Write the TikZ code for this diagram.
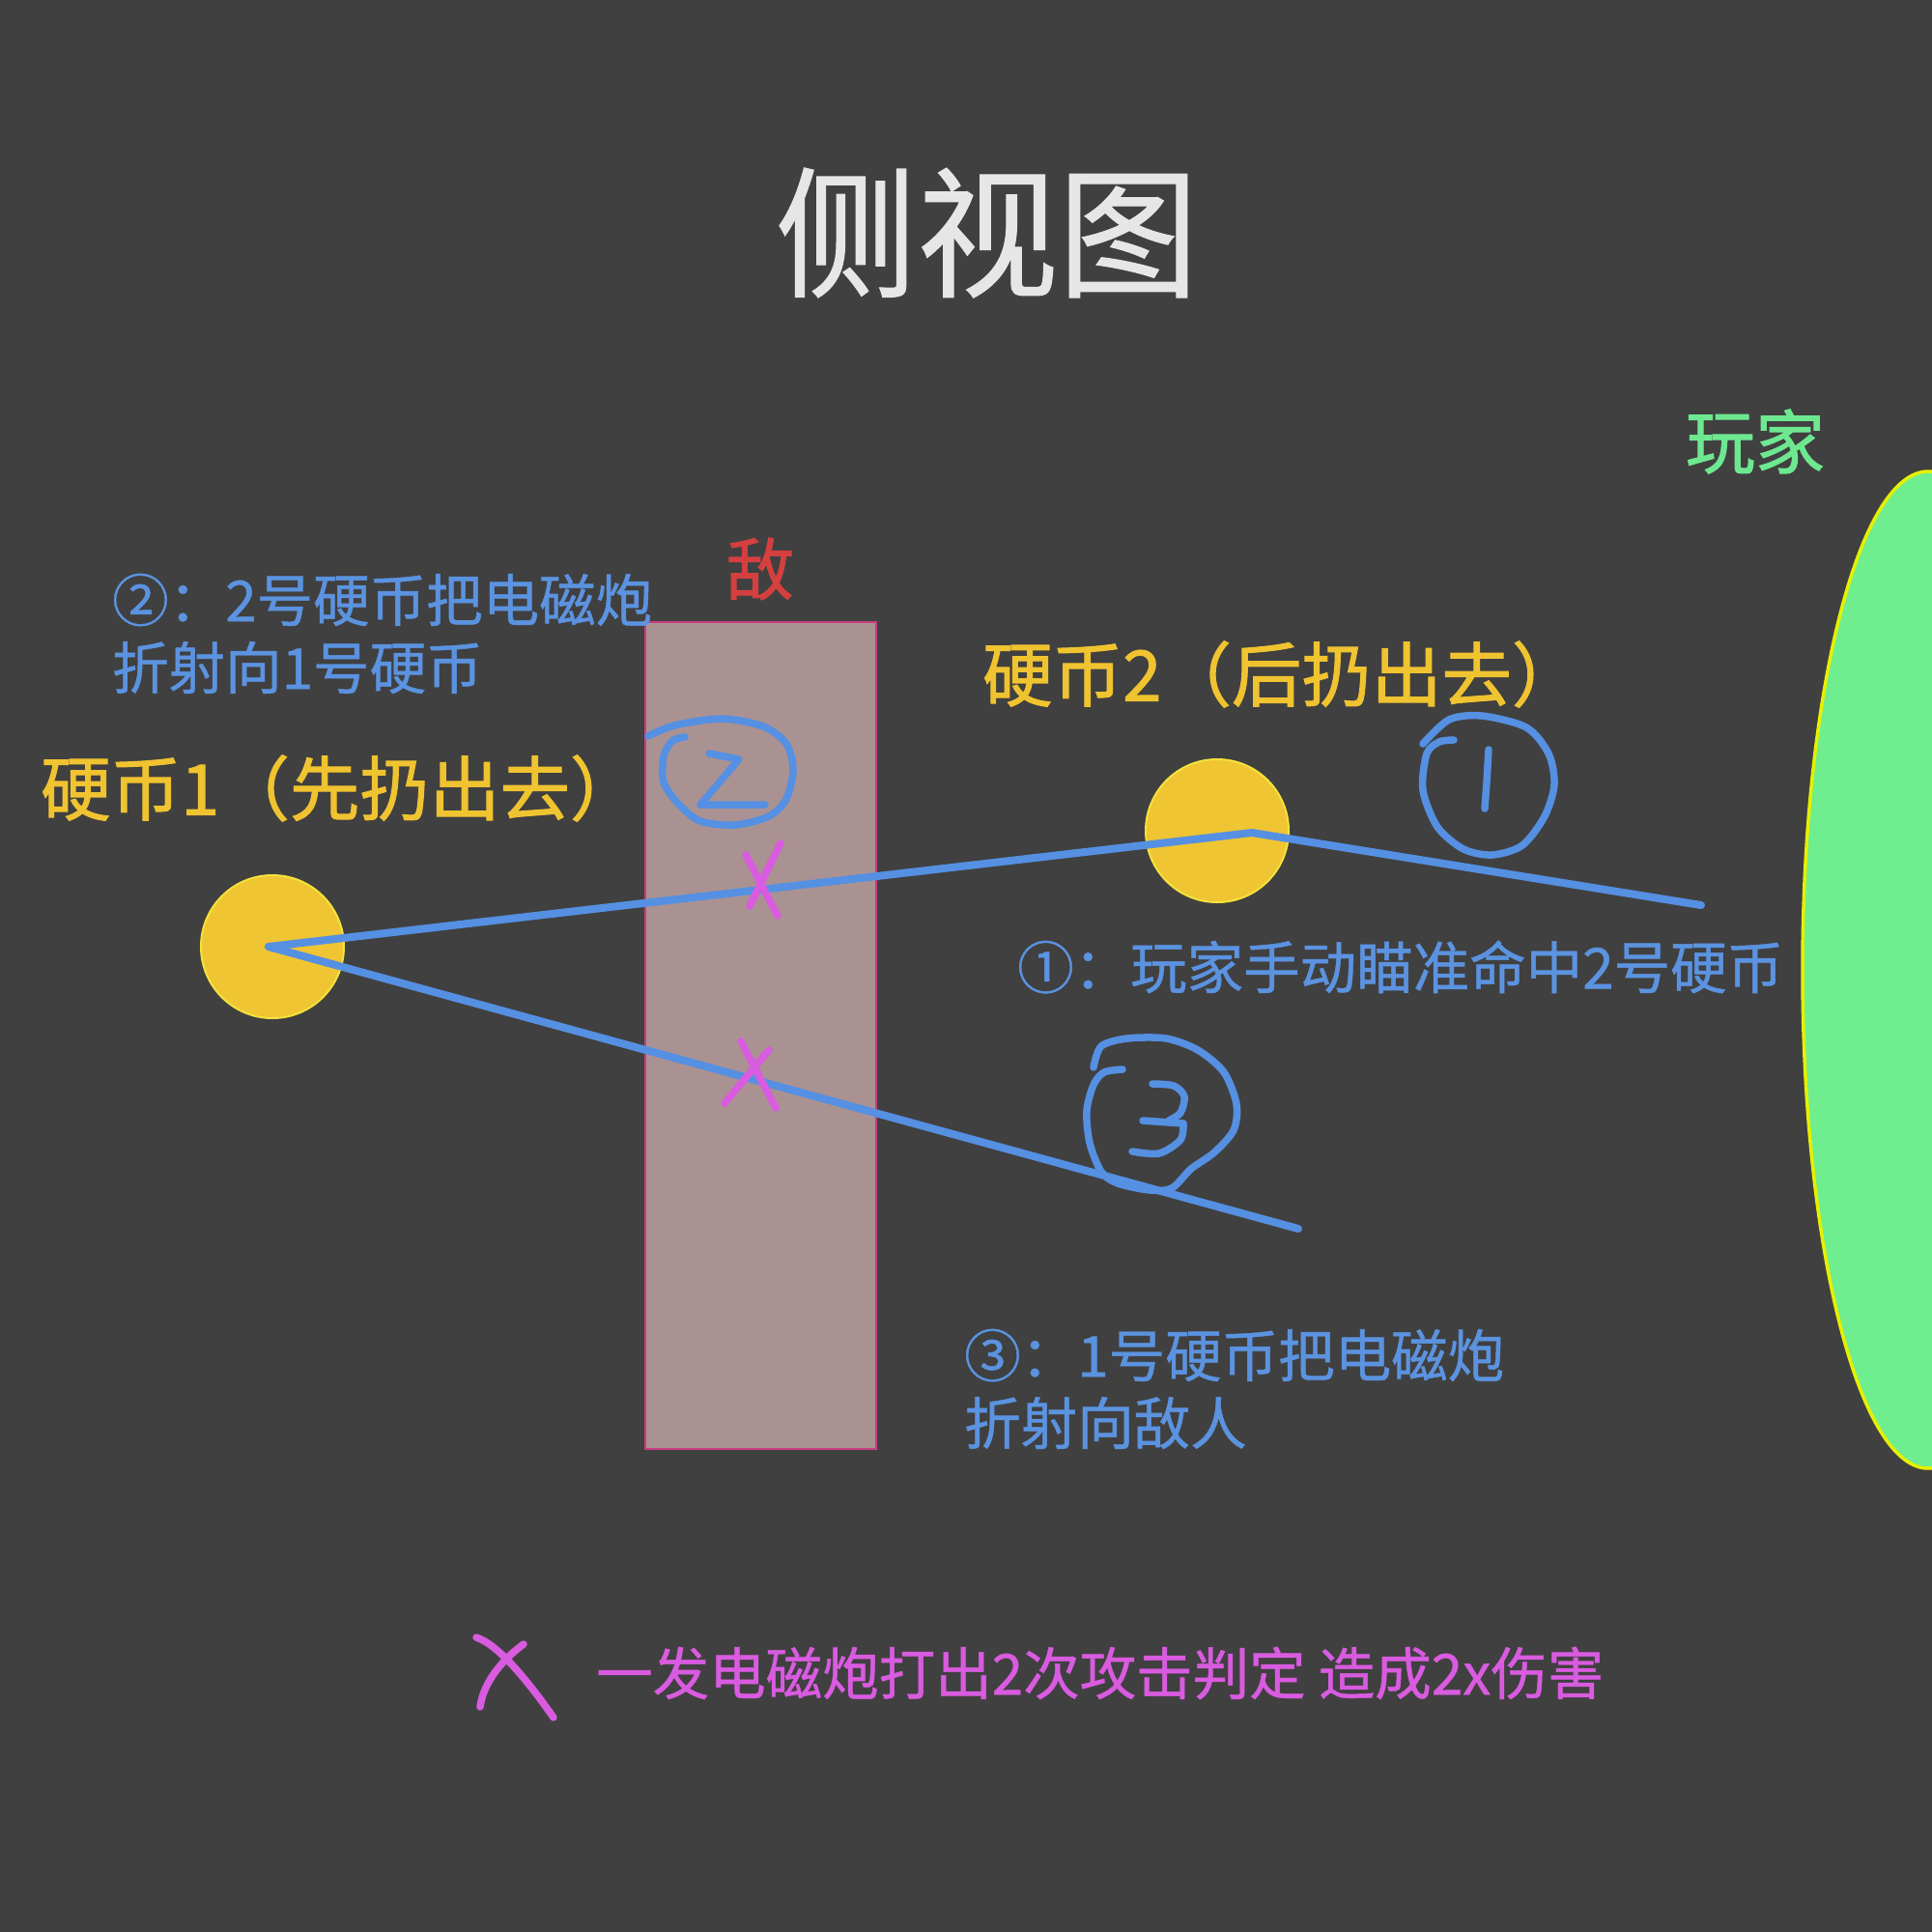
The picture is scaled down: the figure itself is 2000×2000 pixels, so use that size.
\documentclass[tikz,border=0pt]{standalone}
\usepackage{fontspec}
\setmainfont{Noto Sans CJK SC}
\newfontfamily\cjk[FakeBold=0.8]{Noto Sans CJK SC}
\newfontfamily\cjkheavy[FakeBold=1.4]{Noto Sans CJK SC}
\usetikzlibrary{shapes.geometric}
\definecolor{bgc}{HTML}{404040}
\definecolor{beamc}{HTML}{5590E2}
\definecolor{labelblue}{HTML}{5B93E0}
\definecolor{coinfill}{HTML}{EFC534}
\definecolor{coinedge}{HTML}{F5E23A}
\definecolor{yellowtxt}{HTML}{F0C330}
\definecolor{pinkx}{HTML}{D95BE0}
\definecolor{enemyfill}{HTML}{AB9292}
\definecolor{enemyedge}{HTML}{C83C82}
\definecolor{enemytxt}{HTML}{D43F3F}
\definecolor{playerfill}{HTML}{6EEE8E}
\definecolor{playeredge}{HTML}{E6F000}
\definecolor{playertxt}{HTML}{6EE890}
\definecolor{titletxt}{HTML}{E6E6E6}
\tikzset{
  beam/.style={draw=beamc, line width=8pt, line cap=round, line join=round},
  handmark/.style={draw=beamc, line width=7.5pt, line cap=round, line join=round},
  hitmark/.style={draw=pinkx, line width=7.5pt, line cap=round, line join=round},
  coinbox/.style={circle, fill=coinfill, draw=coinedge, line width=2pt, minimum size=148pt, inner sep=0pt},
  enemybox/.style={rectangle, fill=enemyfill, draw=enemyedge, line width=2pt, minimum width=239pt, minimum height=856pt, inner sep=0pt},
  playerbox/.style={ellipse, fill=playerfill, draw=playeredge, line width=3.5pt, minimum width=260pt, minimum height=1032pt, inner sep=0pt},
  bluelabel/.style={anchor=west, inner sep=0pt, text=labelblue, font=\cjk\fontsize{58.5}{58.5}\selectfont},
  yellowlabel/.style={anchor=west, inner sep=0pt, text=yellowtxt, font=\cjkheavy\fontsize{72.5}{72.5}\selectfont},
}
\begin{document}
\begin{tikzpicture}[x=1pt,y=-1pt]
\useasboundingbox (0,0) rectangle (2000,2000);
\fill[bgc] (0,0) rectangle (2000,2000);
\begin{scope}
\clip (0,0) rectangle (2000,2000);
\node[playerbox] (player) at (1996,1004) {};
\end{scope}
\node[enemybox] (enemy) at (787.5,1072) {};
\node[coinbox] (coin1) at (282,980) {};
\node[coinbox] (coin2) at (1260,860) {};
% beam points
\coordinate (k1) at (278,980);
\coordinate (k2) at (1296,862);
\coordinate (k3) at (1761,937);
\coordinate (k4) at (1344,1272);
\draw[beam] (k1) -- (k2) -- (k3);
\draw[beam] (k1) -- (k4);
% hit marks
\draw[hitmark] (772,885) -- (805,948);
\draw[hitmark] (808,873) -- (776,938);
\draw[hitmark] (767,1078) -- (803,1147);
\draw[hitmark] (796,1087) -- (750,1142);
% hand-drawn circled 2
\draw[handmark] plot[smooth] coordinates {(671,762) (698,751) (747,744) (790,752) (814,770) (821,797) (814,827) (796,845) (761,854) (725,850) (703,833) (687,810) (687,783) (696,767) (709,763)};
\draw[handmark] (734,780) -- (765,786) -- (725,833) -- (792,833);
% hand-drawn circled 1
\draw[handmark] plot[smooth] coordinates {(1473,770) (1500,745) (1534,741) (1580,753) (1603,780) (1609,812) (1599,845) (1576,875) (1545,885) (1515,879) (1488,856) (1473,818) (1477,780) (1490,768) (1505,766)};
\draw[handmark] (1541,776) -- (1539,810) -- (1537,837);
% hand-drawn circled 3
\draw[handmark] plot[smooth] coordinates {(1132,1105) (1140,1083) (1167,1075) (1207,1075) (1240,1087) (1267,1110) (1280,1143) (1277,1170) (1257,1193) (1233,1210) (1213,1230) (1190,1232) (1157,1225) (1140,1213) (1128,1183) (1125,1150) (1132,1123) (1143,1110) (1162,1107)};
\draw[handmark] plot[smooth] coordinates {(1193,1122) (1215,1124) (1226,1135) (1222,1152) (1210,1160)};
\draw[handmark] (1183,1160) -- (1225,1163);
\draw[handmark] plot[smooth] coordinates {(1225,1163) (1222,1180) (1200,1194) (1172,1192)};
% legend mark
\draw[hitmark] (493,1695) .. controls (515,1702) and (545,1738) .. (573,1778);
\draw[hitmark] (542,1702) .. controls (515,1722) and (500,1745) .. (497,1767);
% texts
\node[inner sep=0pt, text=titletxt, font=\cjk\fontsize{146}{146}\selectfont] (title) at (1022,241) {侧视图};
\node[inner sep=0pt, text=playertxt, font=\cjkheavy\fontsize{72}{72}\selectfont] (playerlabel) at (1817,457) {玩家};
\node[inner sep=0pt, text=enemytxt, font=\cjkheavy\fontsize{70}{70}\selectfont] (enemylabel) at (787,589) {敌};
\node[bluelabel] (step2a) at (116,621) {②：2号硬币把电磁炮};
\node[bluelabel] (step2b) at (116,691) {折射向1号硬币};
\node[yellowlabel] (coin1label) at (42,816) {硬币1（先扔出去）};
\node[yellowlabel] (coin2label) at (1017,698) {硬币2（后扔出去）};
\node[bluelabel] (step1) at (1053,1001) {①：玩家手动瞄准命中2号硬币};
\node[bluelabel] (step3a) at (998,1403) {③：1号硬币把电磁炮};
\node[bluelabel] (step3b) at (998,1473) {折射向敌人};
\node[anchor=west, inner sep=0pt, text=pinkx, font=\cjk\fontsize{58.5}{58.5}\selectfont] (legend) at (617,1732) {一发电磁炮打出2次攻击判定 造成2x伤害};
\end{tikzpicture}
\end{document}
